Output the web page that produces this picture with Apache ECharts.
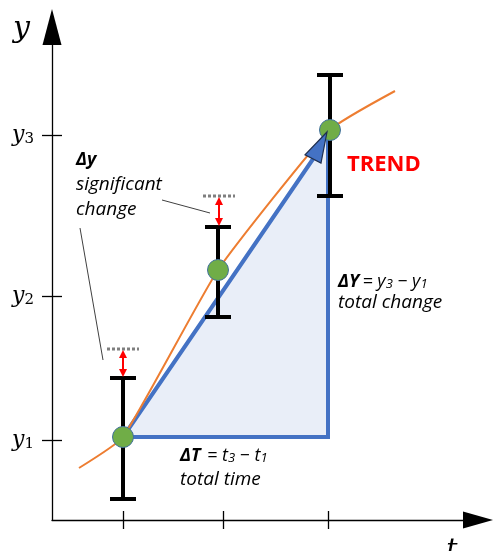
<!DOCTYPE html>
<html>
<head>
<meta charset="utf-8">
<script src="https://cdn.jsdelivr.net/npm/echarts@6/dist/echarts.min.js"></script>
<style>
  html, body { margin: 0; padding: 0; background: #fff; }
  #chart { width: 493px; height: 551px; }
</style>
</head>
<body>
<div id="chart"></div>
<script>
// diagram units (t = time, y = measured value)
var tMin = 0.29, tMax = 4.55;
var yMin = 0.2, yMax = 5.13;
var tTicks = [1.0, 2.0, 3.05];
var yTicks = [1.0, 2.44, 4.05];
var yTickNames = ['1', '2', '3'];

// measurements with error bars
var tPoints = [1.0, 1.95, 3.07];
var yPoints = [1.03, 2.70, 4.10];
var errLow = [0.41, 2.23, 3.44];
var errHigh = [1.62, 3.13, 4.65];

// significant change thresholds above point 1 and 2
var sigT = [1.0, 1.96];
var sigFrom = [1.62, 3.13];
var sigTo = [1.91, 3.44];

// orange trend curve
var trendT = [0.56, 1.0, 1.95, 3.07, 3.72];
var trendY = [0.72, 1.03, 2.70, 4.10, 4.49];

// blue triangle: start, corner, top, arrow base, arrow tip
var triStart = [1.0, 1.03];
var triCorner = [3.05, 1.03];
var triTop = [3.05, 4.11];
var arrowBase = [2.90, 3.81];
var arrowTip = [3.04, 4.08];

// gray leader lines from the label
var leaderA = [[1.39, 3.40], [1.87, 3.27]];
var leaderB = [[0.57, 3.12], [0.80, 1.80]];

var chart = echarts.init(document.getElementById('chart'));

function head(tip, from, len, hw) {
  var dx = tip[0] - from[0], dy = tip[1] - from[1];
  var d = Math.sqrt(dx * dx + dy * dy);
  var ux = dx / d, uy = dy / d;
  var bx = tip[0] - ux * len, by = tip[1] - uy * len;
  return [tip, [bx - uy * hw, by + ux * hw], [bx + uy * hw, by - ux * hw]];
}

var textFont = 'Open Sans';
var serif = 'DejaVu Serif';
var bodyFont = 'italic 19px "Open Sans"';

var option = {
  animation: false,
  grid: { left: 52, right: 15, top: 27, bottom: 31, containLabel: false, outerBoundsMode: 'none' },
  xAxis: [{
    type: 'value', min: tMin, max: tMax,
    splitLine: { show: false },
    axisLine: { onZero: false, symbol: ['none', 'triangle'], symbolSize: [17, 30], lineStyle: { color: '#000', width: 1.3 } },
    axisTick: { customValues: tTicks, length: 9, lineStyle: { color: '#000', width: 1.3 } },
    axisLabel: { show: false }
  }, {
    type: 'value', min: tMin, max: tMax, position: 'bottom',
    splitLine: { show: false },
    axisLine: { show: false, onZero: false },
    axisTick: { inside: true, customValues: tTicks, length: 9, lineStyle: { color: '#000', width: 1.3 } },
    axisLabel: { show: false }
  }],
  yAxis: [{
    type: 'value', min: yMin, max: yMax,
    splitLine: { show: false },
    axisLine: { onZero: false, symbol: ['none', 'triangle'], symbolSize: [19, 36], lineStyle: { color: '#000', width: 1.3 } },
    axisTick: { customValues: yTicks, length: 10, lineStyle: { color: '#000', width: 1.3 } },
    axisLabel: {
      customValues: yTicks, margin: 18,
      formatter: function (v) {
        var i = 0;
        for (var k = 0; k < yTicks.length; k++) if (Math.abs(yTicks[k] - v) < 1e-6) i = k;
        return '{i|y}{s|' + yTickNames[i] + '}';
      },
      rich: {
        i: { fontFamily: serif, fontStyle: 'italic', fontSize: 22, color: '#000' },
        s: { fontFamily: serif, fontSize: 15, color: '#000', padding: [8, 0, 0, 0] }
      }
    }
  }, {
    type: 'value', min: yMin, max: yMax, position: 'left',
    splitLine: { show: false },
    axisLine: { show: false, onZero: false },
    axisTick: { inside: true, customValues: yTicks, length: 10, lineStyle: { color: '#000', width: 1.3 } },
    axisLabel: { show: false }
  }],
  graphic: [
    { type: 'text', left: 13, top: 14, style: { text: 'y', font: 'italic 30px "DejaVu Serif"', fill: '#000' } },
    { type: 'text', x: 452, y: 551, style: { text: 't', font: 'italic 28px "DejaVu Serif"', fill: '#000', align: 'center', verticalAlign: 'middle' } },
    { type: 'text', x: 76, y: 160, style: { text: 'Δy', font: 'italic bold 18px "Open Sans"', fill: '#000', verticalAlign: 'middle' } },
    { type: 'text', x: 76, y: 185, style: { text: 'significant', font: bodyFont, fill: '#000', verticalAlign: 'middle' } },
    { type: 'text', x: 76, y: 210, style: { text: 'change', font: bodyFont, fill: '#000', verticalAlign: 'middle' } },
    { type: 'text', x: 347, y: 165, style: { text: 'TREND', font: 'bold 22px "Open Sans"', fill: '#FF0000', verticalAlign: 'middle' } },
    { type: 'text', x: 338, y: 282, style: {
      text: '{b|ΔY} {n|= y}{s|3}{n| − y}{s|1}', verticalAlign: 'middle',
      rich: {
        b: { fontFamily: textFont, fontStyle: 'italic', fontWeight: 'bold', fontSize: 18, fill: '#000' },
        n: { fontFamily: textFont, fontStyle: 'italic', fontSize: 18, fill: '#000' },
        s: { fontFamily: textFont, fontStyle: 'italic', fontSize: 13, fill: '#000', padding: [4, 0, 0, 0] }
      }
    } },
    { type: 'text', x: 338, y: 303, style: { text: 'total change', font: bodyFont, fill: '#000', verticalAlign: 'middle' } },
    { type: 'text', x: 180, y: 456, style: {
      text: '{b|ΔT}  {n|= t}{s|3}{n| − t}{s|1}', verticalAlign: 'middle',
      rich: {
        b: { fontFamily: textFont, fontStyle: 'italic', fontWeight: 'bold', fontSize: 18, fill: '#000' },
        n: { fontFamily: textFont, fontStyle: 'italic', fontSize: 18, fill: '#000' },
        s: { fontFamily: textFont, fontStyle: 'italic', fontSize: 13, fill: '#000', padding: [4, 0, 0, 0] }
      }
    } },
    { type: 'text', x: 180, y: 480, style: { text: 'total time', font: bodyFont, fill: '#000', verticalAlign: 'middle' } }
  ],
  series: [
    {
      // light triangle fill + blue outline
      type: 'custom', z: 2,
      data: [[0]],
      renderItem: function (params, api) {
        var a = api.coord(triStart), b = api.coord(triCorner), c = api.coord(triTop), d = api.coord(arrowBase);
        return { type: 'group', children: [
          { type: 'polygon', shape: { points: [a, b, c, d] }, style: { fill: '#E9EEF8' } },
          { type: 'polyline', shape: { points: [d, a, b, c] }, style: { stroke: '#4472C4', lineWidth: 4, fill: null, lineJoin: 'miter' } }
        ] };
      }
    },
    {
      // gray leader lines
      type: 'custom', z: 3,
      data: [leaderA, leaderB],
      renderItem: function (params, api) {
        var seg = params.dataIndex === 0 ? leaderA : leaderB;
        var p = api.coord(seg[0]), q = api.coord(seg[1]);
        return { type: 'line', shape: { x1: p[0], y1: p[1], x2: q[0], y2: q[1] }, style: { stroke: '#404040', lineWidth: 1 } };
      }
    },
    {
      type: 'line', z: 4, smooth: 0.15, symbol: 'none',
      data: trendT.map(function (t, i) { return [t, trendY[i]]; }),
      lineStyle: { color: '#ED7D31', width: 2 }
    },
    {
      // error bars
      type: 'custom', z: 5,
      encode: { x: 0, y: [1, 2] },
      data: tPoints.map(function (t, i) { return [t, errLow[i], errHigh[i]]; }),
      renderItem: function (params, api) {
        var lo = api.coord([api.value(0), api.value(1)]);
        var hi = api.coord([api.value(0), api.value(2)]);
        var st = { stroke: '#000', lineWidth: 4 };
        var cap = 13;
        return { type: 'group', children: [
          { type: 'line', shape: { x1: lo[0], y1: lo[1], x2: hi[0], y2: hi[1] }, style: st },
          { type: 'line', shape: { x1: lo[0] - cap, y1: lo[1], x2: lo[0] + cap, y2: lo[1] }, style: st },
          { type: 'line', shape: { x1: hi[0] - cap, y1: hi[1], x2: hi[0] + cap, y2: hi[1] }, style: st }
        ] };
      }
    },
    {
      // dotted thresholds and red double arrows
      type: 'custom', z: 6,
      encode: { x: 0, y: [1, 2] },
      data: sigT.map(function (t, i) { return [t, sigFrom[i], sigTo[i]]; }),
      renderItem: function (params, api) {
        var lo = api.coord([api.value(0), api.value(1)]);
        var hi = api.coord([api.value(0), api.value(2)]);
        var hw = 16;
        return { type: 'group', children: [
          { type: 'line', shape: { x1: hi[0] - hw, y1: hi[1], x2: hi[0] + hw, y2: hi[1] }, style: { stroke: '#7F7F7F', lineWidth: 3, lineDash: [3, 2] } },
          { type: 'line', shape: { x1: lo[0], y1: lo[1] - 6, x2: hi[0], y2: hi[1] + 6 }, style: { stroke: '#FF0000', lineWidth: 2 } },
          { type: 'polygon', shape: { points: head([hi[0], hi[1] + 1], [lo[0], lo[1]], 8, 4) }, style: { fill: '#FF0000' } },
          { type: 'polygon', shape: { points: head([lo[0], lo[1] - 1], [hi[0], hi[1]], 8, 4) }, style: { fill: '#FF0000' } }
        ] };
      }
    },
    {
      type: 'scatter', z: 7, symbol: 'circle', symbolSize: 21,
      data: tPoints.map(function (t, i) { return [t, yPoints[i]]; }),
      itemStyle: { color: '#70AD47', borderColor: '#41719C', borderWidth: 1, opacity: 1 }
    },
    {
      // arrow head of the trend line
      type: 'custom', z: 8,
      data: [[0]],
      renderItem: function (params, api) {
        var tip = api.coord(arrowTip), base = api.coord(arrowBase);
        var dx = tip[0] - base[0], dy = tip[1] - base[1];
        var len = Math.sqrt(dx * dx + dy * dy);
        return { type: 'polygon', shape: { points: head(tip, base, len, 9) }, style: { fill: '#4472C4', stroke: '#1F2F4F', lineWidth: 1.2 } };
      }
    }
  ]
};

chart.setOption(option);
</script>
</body>
</html>
